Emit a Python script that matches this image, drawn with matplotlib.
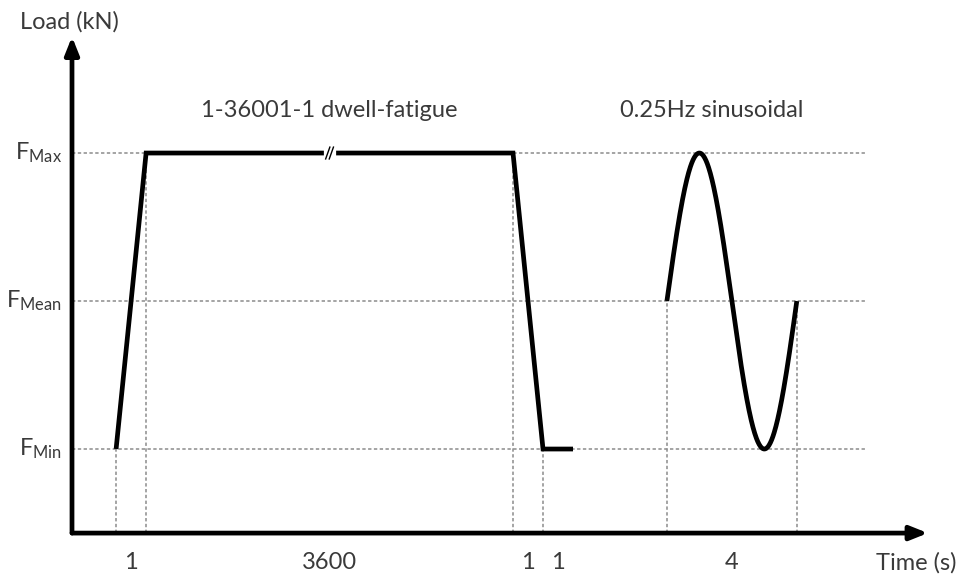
import numpy as np
import matplotlib
matplotlib.use("Agg")
import matplotlib.pyplot as plt

plt.rcParams['font.family'] = ['Lato', 'DejaVu Sans']
plt.rcParams['mathtext.default'] = 'regular'

# Load levels (normalised: F_Min = 0, F_Max = 1)
level_names = ['Min', 'Mean', 'Max']
level_values = [0.0, 0.5, 1.0]

# Segment durations (s) shown under the time axis
segment_labels = ['1', '3600', '1', '1', '4']
sine_freq = 0.25      # Hz
sine_duration = 4.0   # s

# Schematic (not-to-scale) time axis layout
t0 = 1.47
ramp_w = 1.0
dwell_w = 12.23
hold_w = 1.0
gap_w = 3.13
sine_w = 4.33

x_up0 = t0
x_up1 = x_up0 + ramp_w
x_dn0 = x_up1 + dwell_w
x_dn1 = x_dn0 + ramp_w
x_hold = x_dn1 + hold_w
x_s0 = x_hold + gap_w
x_s1 = x_s0 + sine_w

fmin, fmean, fmax = level_values
text_color = '#3a3a3a'
fs = 17
line_w = 3.4

fig = plt.figure(figsize=(9.64, 5.76), dpi=100)
ax = fig.add_axes([0, 0, 1, 1])
ax.set_xlim(-2.4, 29.733)
ax.set_ylim(-0.429, 1.517)
ax.axis('off')

x_axis_y = -0.284
grid_kw = dict(color='#8c8c8c', lw=1.1, ls=(0, (2.2, 1.6)), zorder=1)

# horizontal reference levels
for v in level_values:
    ax.plot([0, 26.43], [v, v], **grid_kw)

# vertical guides down to the time axis
for xv, yv in [(x_up0, fmin), (x_up1, fmax), (x_dn0, fmax), (x_dn1, fmin),
               (x_s0, fmean), (x_s1, fmean)]:
    ax.plot([xv, xv], [x_axis_y, yv], **grid_kw)

# dwell-fatigue trapezoid
prof_x = [x_up0, x_up1, x_dn0, x_dn1, x_hold]
prof_y = [fmin, fmax, fmax, fmin, fmin]
ax.plot(prof_x, prof_y, color='black', lw=line_w, solid_joinstyle='miter',
        solid_capstyle='butt', zorder=3)

# break mark on the compressed dwell
xb = (x_up1 + x_dn0) / 2
ax.plot([xb - 0.1, xb + 0.1], [fmax, fmax], color='white', lw=4.5, zorder=4)
for dx in (-0.06, 0.06):
    ax.plot([xb + dx - 0.07, xb + dx + 0.07], [fmax - 0.02, fmax + 0.02],
            color='black', lw=1.0, zorder=5)

# sinusoidal cycle
t = np.linspace(0, sine_duration, 300)
sx = x_s0 + t * sine_w / sine_duration
sy = fmean + (fmax - fmean) * np.sin(2 * np.pi * sine_freq * t)
ax.plot(sx, sy, color='black', lw=line_w, solid_capstyle='butt', zorder=3)

# axes with arrowheads
arrow_kw = dict(arrowstyle='-|>,head_length=0.75,head_width=0.3', lw=line_w,
                color='black', shrinkA=0, shrinkB=0, mutation_scale=14)
ax.annotate('', xy=(0, 1.393), xytext=(0, x_axis_y), arrowprops=arrow_kw,
            zorder=6)
ax.annotate('', xy=(28.53, x_axis_y), xytext=(0, x_axis_y),
            arrowprops=arrow_kw, zorder=6)

# level labels
for name, v in zip(level_names, level_values):
    ax.text(-0.33, v, r'$F_{%s}$' % name, ha='right', va='center',
            fontsize=fs, color=text_color)

# segment duration labels
seg_edges = [(x_up0, x_up1), (x_up1, x_dn0), (x_dn0, x_dn1),
             (x_dn1, x_hold), (x_s0, x_s1)]
for (a, b), lab in zip(seg_edges, segment_labels):
    ax.text((a + b) / 2, -0.385, lab, ha='center', va='center',
            fontsize=fs, color=text_color)

ax.text(-1.75, 1.443, 'Load (kN)', ha='left', va='center', fontsize=fs,
        color=text_color)
ax.text(28.13, -0.385, 'Time (s)', ha='center', va='center', fontsize=fs,
        color=text_color)
ax.text(xb, 1.145, '1-36001-1 dwell-fatigue', ha='center', va='center',
        fontsize=fs, color=text_color)
ax.text(21.33, 1.145, '0.25Hz sinusoidal', ha='center', va='center',
        fontsize=fs, color=text_color)

fig.savefig('out.png', dpi=100, facecolor='white')
